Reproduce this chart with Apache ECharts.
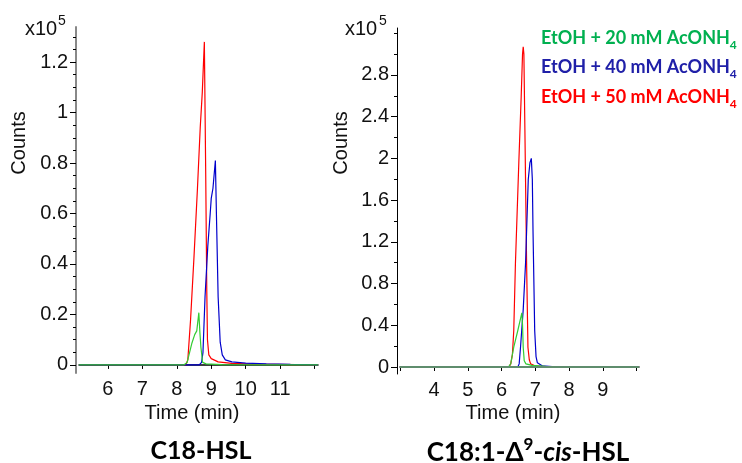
<!DOCTYPE html>
<html>
<head>
<meta charset="utf-8">
<script src="https://cdn.jsdelivr.net/npm/echarts@6/dist/echarts.min.js"></script>
<style>
html,body{margin:0;padding:0;background:#fff;}
#chart{width:742px;height:463px;}
</style>
</head>
<body>
<div id="chart"></div>
<script>
// ---------- data ----------
// C18-HSL panel (time in min, counts in x10^5)
const c18Red = [[5.16,0],[8.26,0],[8.32,0.02],[8.4,0.18],[8.5,0.43],[8.6,0.7],[8.68,0.94],[8.74,1.08],[8.80,1.28],[8.84,0.75],[8.87,0.3],[8.89,0.1],[8.93,0.04],[9.0,0.025],[9.2,0.012],[9.6,0.006],[10.2,0.003],[12.1,0]];
const c18Blue = [[5.16,0],[8.65,0],[8.72,0.01],[8.76,0.05],[8.82,0.27],[8.9,0.47],[8.97,0.6],[9.0,0.66],[9.05,0.7],[9.12,0.81],[9.15,0.6],[9.2,0.27],[9.26,0.09],[9.32,0.04],[9.41,0.02],[9.6,0.012],[10.0,0.007],[10.6,0.004],[11.3,0.002],[12.1,0]];
const c18Green = [[5.16,0],[8.2,0],[8.3,0.01],[8.44,0.087],[8.52,0.12],[8.58,0.135],[8.64,0.207],[8.67,0.13],[8.7,0.07],[8.75,0.01],[8.85,0.004],[9.3,0.001],[12.1,0]];
// C18:1-Δ9-cis-HSL panel
const c181Red = [[2.99,0],[6.22,0],[6.27,0.03],[6.32,0.12],[6.36,0.35],[6.41,1.0],[6.51,1.96],[6.58,2.59],[6.62,3.0],[6.64,3.07],[6.66,3.0],[6.69,2.27],[6.74,1.0],[6.78,0.19],[6.82,0.07],[6.86,0.03],[7.0,0.01],[7.3,0.004],[10.07,0]];
const c181Blue = [[2.99,0],[6.48,0],[6.52,0.03],[6.56,0.19],[6.64,0.55],[6.71,1.0],[6.76,1.5],[6.79,1.8],[6.84,1.96],[6.88,2.0],[6.91,1.8],[6.93,1.31],[6.98,0.35],[7.02,0.1],[7.06,0.04],[7.2,0.012],[7.5,0.005],[10.07,0]];
const c181Green = [[2.99,0],[6.2,0],[6.27,0.03],[6.36,0.19],[6.48,0.35],[6.55,0.45],[6.6,0.52],[6.62,0.4],[6.64,0.19],[6.67,0.06],[6.72,0.03],[6.9,0.015],[7.3,0.007],[7.8,0.003],[10.07,0]];

// tick labels
const c18XLabels = [6,7,8,9,10,11];
const c18XTicks = [6,7,8,9,10,11,12];
const c18YLabels = [0,0.2,0.4,0.6,0.8,1,1.2];
const c181XLabels = [4,5,6,7,8,9];
const c181XTicks = [3,4,5,6,7,8,9,10];
const c181YLabels = [0,0.4,0.8,1.2,1.6,2,2.4,2.8];

const seriesNames = ['EtOH + 20 mM AcONH4','EtOH + 40 mM AcONH4','EtOH + 50 mM AcONH4'];

// minor ticks (positions only)
function steps(a,b,s){const r=[];for(let i=0;a+i*s<=b+1e-9;i++){r.push(Math.round((a+i*s)*1000)/1000);}return r;}
const c18YMinor = steps(0,1.3,0.05);
const c181YMinor = steps(0,3.2,0.2);

const RED='#ff0000', BLUE='#0000cc', GREEN='#33cc33';
const FONT='Liberation Sans';
const lblStyle = {color:'#111', fontSize:20, fontFamily:FONT};

function xAx(grid,min,max,labels,ticks){
  return {type:'value',gridIndex:grid,min:min,max:max,
    axisLine:{show:true,lineStyle:{color:'#000',width:1.5}},
    axisTick:{show:true,customValues:ticks,length:4,lineStyle:{color:'#000',width:1}},
    axisLabel:Object.assign({customValues:labels,margin:6},lblStyle),
    splitLine:{show:false}};
}
function yAx(grid,min,max,labels,color,w){
  return {type:'value',gridIndex:grid,min:min,max:max,offset:3,
    axisLine:{show:true,lineStyle:{color:color,width:w}},
    axisTick:{show:true,customValues:labels,length:6,lineStyle:{color:'#000',width:1}},
    axisLabel:Object.assign({customValues:labels,margin:8},lblStyle),
    splitLine:{show:false}};
}
function yMinor(grid,min,max,ticks){
  return {type:'value',gridIndex:grid,min:min,max:max,offset:3,position:'left',
    axisLine:{show:false},
    axisTick:{show:true,customValues:ticks,length:3,lineStyle:{color:'#000',width:1}},
    axisLabel:{show:false},splitLine:{show:false}};
}
function line(name,data,color,xi,yi,extra){
  return Object.assign({name:name,type:'line',data:data,xAxisIndex:xi,yAxisIndex:yi,
    showSymbol:false,symbol:'none',smooth:false,
    lineStyle:{color:color,width:1.2},itemStyle:{color:color},z:2},extra||{});
}
function legendText(y,label,color){
  return {type:'text',x:541,y:y,style:{text:'{t|'+label+'}{s|4}',align:'left',verticalAlign:'middle',
    rich:{t:{fontSize:18,fontWeight:'bold',fontFamily:'Lato',fill:color,lineHeight:22,verticalAlign:'top'},
          s:{fontSize:12,fontWeight:'bold',fontFamily:'Lato',fill:color,lineHeight:22,verticalAlign:'bottom'}}}};
}
function plainText(x,y,txt,size,rot){
  const o={type:'text',x:x,y:y,style:{text:txt,fontSize:size,fontFamily:FONT,fill:'#111',align:'left',verticalAlign:'middle'}};
  if(rot){o.rotation=rot;o.style.align='center';}
  return o;
}

const chart = echarts.init(document.getElementById('chart'));
chart.setOption({
  animation:false,
  backgroundColor:'#fff',
  grid:[
    {left:79,top:27,width:239,height:346},
    {left:400,top:28,width:239,height:346}
  ],
  xAxis:[
    xAx(0,5.16,12.1,c18XLabels,c18XTicks),
    xAx(1,2.99,10.07,c181XLabels,c181XTicks)
  ],
  yAxis:[
    yAx(0,-0.032,1.339,c18YLabels,'#888',2),
    yMinor(0,-0.032,1.339,c18YMinor),
    yAx(1,-0.067,3.25,c181YLabels,'#000',1),
    yMinor(1,-0.067,3.25,c181YMinor)
  ],
  series:[
    line(seriesNames[2],c18Red,RED,0,0),
    line(seriesNames[1],c18Blue,BLUE,0,0),
    line(seriesNames[0],c18Green,GREEN,0,0),
    line(seriesNames[2],c181Red,RED,1,2),
    line(seriesNames[1],c181Blue,BLUE,1,2),
    line(seriesNames[0],c181Green,GREEN,1,2,{
      markLine:{silent:true,symbol:'none',label:{show:false},
        lineStyle:{color:'#5f8d6d',width:2.2,type:'solid'},data:[{yAxis:0}]}})
  ],
  graphic:[
    plainText(25,29,'x10',20),
    plainText(58,21,'5',14),
    plainText(345,29,'x10',20),
    plainText(379,21,'5',14),
    plainText(19,143,'Counts',20,Math.PI/2),
    plainText(341,143,'Counts',20,Math.PI/2),
    {type:'text',x:192,y:413,style:{text:'Time (min)',fontSize:20,fontFamily:FONT,fill:'#111',align:'center',verticalAlign:'middle'}},
    {type:'text',x:513,y:413,style:{text:'Time (min)',fontSize:20,fontFamily:FONT,fill:'#111',align:'center',verticalAlign:'middle'}},
    {type:'text',x:201,y:451,style:{text:'C18-HSL',fontSize:25,fontWeight:'bold',fontFamily:'Lato',fill:'#000',align:'center',verticalAlign:'middle'}},
    {type:'text',x:528,y:451,style:{
      text:'{b|C18:1-Δ}{s|9}{b|-}{i|cis}{b|-HSL}',align:'center',verticalAlign:'middle',
      rich:{
        b:{fontSize:26,fontWeight:'bold',fontFamily:'Lato',fill:'#000',lineHeight:30,verticalAlign:'bottom'},
        i:{fontSize:26,fontWeight:'bold',fontStyle:'italic',fontFamily:'Lato',fill:'#000',lineHeight:30,verticalAlign:'bottom'},
        s:{fontSize:17,fontWeight:'bold',fontFamily:'Lato',fill:'#000',lineHeight:30,verticalAlign:'top'}
      }}},
    legendText(40,'EtOH + 20 mM AcONH','#00b050'),
    legendText(69,'EtOH + 40 mM AcONH','#2020a8'),
    legendText(99,'EtOH + 50 mM AcONH','#ff0000')
  ]
});
</script>
</body>
</html>
